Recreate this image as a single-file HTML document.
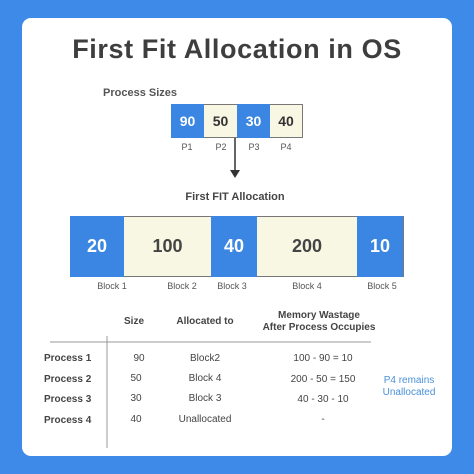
<!DOCTYPE html>
<html><head><style>
body{margin:0;width:474px;height:474px;background:#3d8ae8;font-family:"Liberation Sans",sans-serif;position:relative;overflow:hidden}
.card{position:absolute;left:22px;top:18px;width:430px;height:438px;background:#fff;border-radius:9px}
.t{position:absolute;white-space:nowrap;color:#444;font-weight:bold}
.b{position:absolute;box-sizing:border-box;display:flex;align-items:center;justify-content:center;font-weight:bold}
.bl{background:#3a86e2;color:#fff}
.cr{background:#f7f7e4;color:#333}
.c{transform:translateX(-50%)}
</style></head><body>
<div class="card"></div>
<div class="t c" style="left:237px;top:34px;font-size:27px;letter-spacing:0.6px;color:#3e3e3e">First Fit Allocation in OS</div>
<div class="t" style="left:103px;top:87px;font-size:11px;color:#555">Process Sizes</div>
<div style="position:absolute;left:171px;top:104px;width:132px;height:34px;border:1px solid #777;box-sizing:border-box"></div>
<div class="b bl" style="left:171px;top:104px;width:33px;height:34px;font-size:14px">90</div>
<div class="b cr" style="left:204px;top:104px;width:33px;height:34px;font-size:14px;border-top:1px solid #777;border-bottom:1px solid #777">50</div>
<div class="b bl" style="left:237px;top:104px;width:33px;height:34px;font-size:14px">30</div>
<div class="b cr" style="left:270px;top:104px;width:33px;height:34px;font-size:14px;border:1px solid #777;border-left:none">40</div>
<div class="t c" style="left:187px;top:142px;font-size:9px;font-weight:normal;color:#555">P1</div>
<div class="t c" style="left:221px;top:142px;font-size:9px;font-weight:normal;color:#555">P2</div>
<div class="t c" style="left:254px;top:142px;font-size:9px;font-weight:normal;color:#555">P3</div>
<div class="t c" style="left:286px;top:142px;font-size:9px;font-weight:normal;color:#555">P4</div>
<svg style="position:absolute;left:0;top:0" width="474" height="474">
<line x1="235" y1="138" x2="235" y2="172" stroke="#333" stroke-width="1.5"/>
<polygon points="230,170 240,170 235,178" fill="#333"/>
<rect x="70.5" y="216.5" width="333" height="60" fill="none" stroke="#777"/>
<line x1="50" y1="342" x2="371" y2="342" stroke="#999"/>
<line x1="107" y1="336" x2="107" y2="448" stroke="#999"/>
</svg>
<div class="t c" style="left:235px;top:191px;font-size:11px;color:#444">First FIT Allocation</div>
<div class="b bl" style="left:70px;top:216px;width:54px;height:61px;font-size:18px">20</div>
<div class="b cr" style="left:124px;top:217px;width:87px;height:59px;font-size:18px;color:#444">100</div>
<div class="b bl" style="left:211px;top:216px;width:46px;height:61px;font-size:18px">40</div>
<div class="b cr" style="left:257px;top:217px;width:100px;height:59px;font-size:18px;color:#444">200</div>
<div class="b bl" style="left:357px;top:216px;width:46px;height:61px;font-size:18px">10</div>
<div class="t c" style="left:112px;top:281px;font-size:9px;font-weight:normal;color:#555">Block 1</div>
<div class="t c" style="left:182px;top:281px;font-size:9px;font-weight:normal;color:#555">Block 2</div>
<div class="t c" style="left:232px;top:281px;font-size:9px;font-weight:normal;color:#555">Block 3</div>
<div class="t c" style="left:307px;top:281px;font-size:9px;font-weight:normal;color:#555">Block 4</div>
<div class="t c" style="left:382px;top:281px;font-size:9px;font-weight:normal;color:#555">Block 5</div>
<div class="t c" style="left:134px;top:316px;font-size:10px">Size</div>
<div class="t c" style="left:205px;top:316px;font-size:10px">Allocated to</div>
<div class="t c" style="left:319px;top:310px;font-size:10px;text-align:center;line-height:12px">Memory Wastage<br>After Process Occupies</div>
<div class="t" style="left:44px;top:353px;font-size:10px">Process 1</div>
<div class="t" style="left:44px;top:374px;font-size:10px">Process 2</div>
<div class="t" style="left:44px;top:394px;font-size:10px">Process 3</div>
<div class="t" style="left:44px;top:415px;font-size:10px">Process 4</div>
<div class="t c" style="left:139px;top:353px;font-size:10px;font-weight:normal">90</div>
<div class="t c" style="left:136px;top:373px;font-size:10px;font-weight:normal">50</div>
<div class="t c" style="left:136px;top:393px;font-size:10px;font-weight:normal">30</div>
<div class="t c" style="left:136px;top:414px;font-size:10px;font-weight:normal">40</div>
<div class="t c" style="left:205px;top:353px;font-size:10px;font-weight:normal">Block2</div>
<div class="t c" style="left:205px;top:373px;font-size:10px;font-weight:normal">Block 4</div>
<div class="t c" style="left:205px;top:393px;font-size:10px;font-weight:normal">Block 3</div>
<div class="t c" style="left:205px;top:414px;font-size:10px;font-weight:normal">Unallocated</div>
<div class="t c" style="left:323px;top:353px;font-size:10px;font-weight:normal">100 - 90 = 10</div>
<div class="t c" style="left:323px;top:374px;font-size:10px;font-weight:normal">200 - 50 = 150</div>
<div class="t c" style="left:323px;top:394px;font-size:10px;font-weight:normal">40 - 30 - 10</div>
<div class="t c" style="left:323px;top:414px;font-size:10px;font-weight:normal">-</div>
<div class="t c" style="left:409px;top:375px;font-size:10px;font-weight:normal;color:#4a90d9;text-align:center;line-height:12px">P4 remains<br>Unallocated</div>
</body></html>
